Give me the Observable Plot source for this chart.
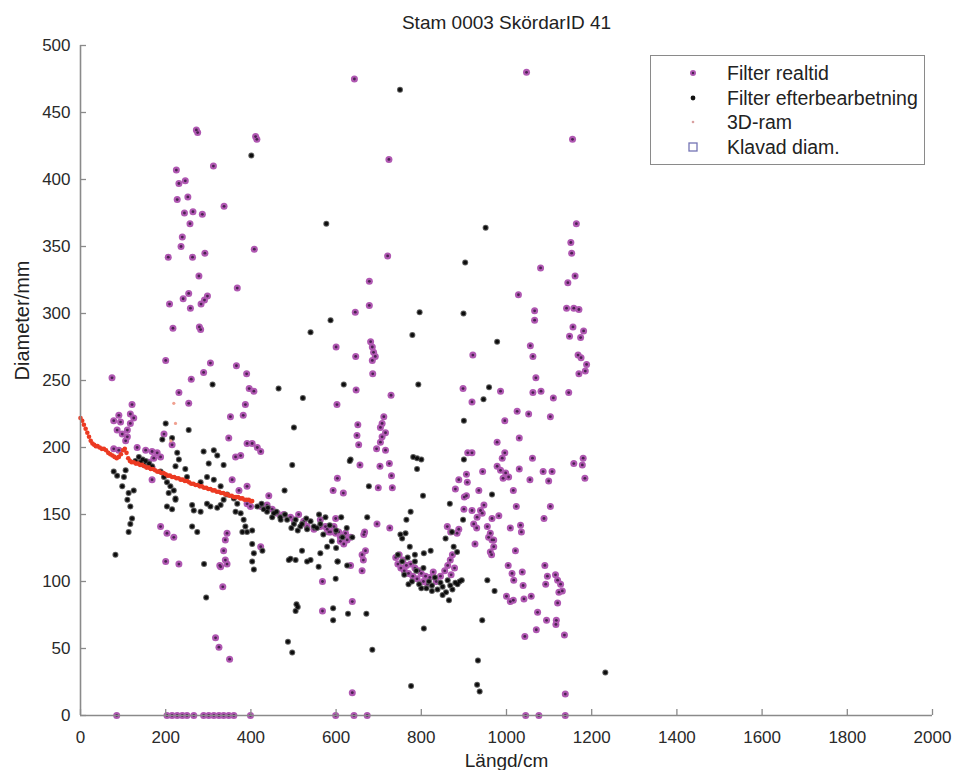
<!DOCTYPE html>
<html>
<head>
<meta charset="utf-8">
<script src="https://cdn.jsdelivr.net/npm/d3@7"></script>
<script src="https://cdn.jsdelivr.net/npm/@observablehq/plot@0.6"></script>
<style>
  html, body { margin: 0; padding: 0; background: #fff; }
  #wrap { position: relative; width: 960px; height: 770px; font-family: "Liberation Sans", Arial, sans-serif; }
  #legend { position: absolute; left: 650px; top: 55px; width: 275px; height: 110px; border: 1.5px solid #8a8a8a; background: #fff; box-sizing: border-box; }
  .row { position: absolute; left: 0; height: 24px; width: 100%; }
  .row svg { position: absolute; left: 34px; top: 4px; }
  .row span { position: absolute; left: 76px; top: 0; font-size: 19.5px; line-height: 24px; color: #222; white-space: nowrap; }
</style>
</head>
<body>
<div id="wrap"></div>
<script>
const title = "Stam 0003 SkördarID 41";
const xLabel = "Längd/cm";
const yLabel = "Diameter/mm";
const seriesNames = ["Filter realtid", "Filter efterbearbetning", "3D-ram", "Klavad diam."];
const xTicks = [0, 200, 400, 600, 800, 1000, 1200, 1400, 1600, 1800, 2000];
const yTicks = [0, 50, 100, 150, 200, 250, 300, 350, 400, 450, 500];

// Filter realtid (purple) [Längd cm, Diameter mm]
const realtid = [
[74,252],[225,407],[231,397],[246,399],[227,385],[252,387],[244,375],[264,376],[286,374],[312,410],[257,367],[337,380],[239,357],[236,350],[206,342],[263,342],[292,345],[408,348],[278,328],[368,319],[254,315],[241,311],[298,313],[291,310],[283,307],[209,307],[258,304],[217,289],[279,290],[282,288],[200,265],[305,263],[366,261],[390,255],[260,251],[289,256],[231,241],[396,244],[407,242],
[272,437],[275,435],[411,432],[414,430],
[724,415],[721,343],[678,324],[678,306],[645,301],[600,275],[646,268],[681,279],[685,275],[688,271],[692,268],[685,265],[686,255],[647,243],[729,239],
[643,475],[1047,480],[1155,430],[1164,367],[1151,353],[1153,345],[1080,334],[1161,328],[1144,323],[1028,314],[1066,302],[1066,295],[1141,304],[1158,304],[1170,303],[1156,290],[1181,287],[1148,283],[1174,282],[1168,269],[1175,267],[1188,262],[1185,257],[1170,255],[1056,276],[1062,268],[1069,252],[1062,241],[1081,242],[1110,237],[1146,241],[1025,227],[1052,225],[986,242],[898,244],[919,234],[921,269],[602,232],[712,223],[1103,223],
[996,220],[651,217],[649,209],[653,202],[708,218],[704,215],[716,211],[708,208],[704,204],[695,199],[716,198],[656,187],[703,186],[725,188],[730,179],[699,170],[732,170],[603,177],[593,168],[617,166],[978,204],[1030,207],[996,196],[990,192],[978,186],[986,183],[998,181],[1005,178],[992,177],[909,196],[919,196],[944,182],[1030,184],[1061,192],[1086,182],[1107,182],[1099,175],[1158,188],[1180,192],[1178,187],[1184,177],[1055,176],[1016,168],[888,176],[908,174],[906,180],[880,169],[901,163],[906,164],[935,168],[900,154],[919,153],[939,153],[947,157],[943,151],[931,148],[966,147],[982,149],[1023,156],[1103,156],[1088,147],[1009,140],[1033,142],[1035,137],[923,143],[930,140],[955,141],[962,136],[958,133],[970,131],[861,141],[869,137],[884,136],[888,139],[926,128],[966,131],[970,126],[962,122],[965,120],[1021,123],[1004,112],[1013,106],[1017,101],[1037,107],[1039,97],[1090,112],[1096,104],[1115,105],[1120,101],[1127,98],[1131,93],[1123,92],[1092,98],[1000,89],[1009,85],[1016,86],[1041,87],[1058,89],[1120,84],[1073,77],[1094,71],[1117,71],[1116,68],[1070,64],[1043,59],[1136,60],[1138,16],[638,17],[634,112],[638,85],[568,100],[568,78],[667,137],[665,135],[669,123],[661,120],[664,116],[661,108],[696,143],[726,140],[595,141],[618,133],[626,131],[610,130],[599,147],[606,137],[622,136],[634,133],[618,128],[563,146],[575,141],[583,137],
[85,0],[203,0],[215,0],[227,0],[239,0],[250,0],[266,0],[289,0],[301,0],[313,0],[325,0],[336,0],[348,0],[360,0],[399,0],[599,0],[642,0],[673,0],[1045,0],[1076,0],[1138,0],
[121,232],[117,225],[125,222],[117,218],[110,213],[78,220],[90,224],[94,219],[86,213],[98,210],[110,208],[106,205],[78,199],[90,198],[133,200],[153,198],[168,197],[180,196],[188,193],[172,192],[160,189],[168,185],[168,176],[196,210],[215,202],[188,141],[203,136],[219,133],[200,115],[231,113],[254,233],[352,223],[382,224],[348,207],[364,193],[376,194],[391,203],[403,203],[415,200],[423,197],[356,176],[372,168],[391,171],[391,158],[399,156],[344,136],[340,131],[336,123],[340,116],[327,112],[344,113],[387,232],[442,164],[423,126],[423,156],[438,157],[450,154],[462,151],[477,150],[493,148],[501,146],[512,150],[524,145],[532,141],[548,139],[563,141],[579,139],[587,137],[599,136],[610,133],
[329,111],[334,96],[317,58],[325,51],[350,42],
[740,118],[745,113],[748,120],[752,110],[757,116],[760,108],[765,112],[770,106],[775,113],[780,104],[785,110],[790,102],[795,108],[800,106],[805,100],[810,104],[815,98],[820,103],[828,107],[835,100],[845,104],[855,108],[862,112],[868,116],[873,120],[870,105],[878,110]
];

// Filter efterbearbetning (black)
const efter = [
[401,418],[750,467],[577,367],[951,364],[903,338],[587,295],[540,286],[779,284],[796,301],[899,300],[978,279],[310,247],[465,244],[522,237],[618,247],[793,247],[959,245],[946,236],
[900,220],[781,193],[790,192],[800,191],[790,184],[900,191],[632,190],[677,171],[804,164],[966,165],[867,158],[775,152],[765,146],[673,148],[898,146],[857,132],[872,137],[876,126],[884,122],[751,135],[763,136],[755,132],[773,126],[785,120],[806,121],[822,123],[638,133],[604,115],[599,102],[593,80],[593,71],[628,76],[671,76],[685,49],[776,22],[806,65],[943,71],[933,41],[931,23],[937,18],[955,101],[972,93],[1232,32],
[200,218],[215,207],[254,213],[192,206],[289,197],[313,198],[321,194],[301,188],[336,187],[227,196],[231,191],[223,186],[246,184],[250,178],[501,215],[497,187],[479,168],[78,182],[86,179],[102,178],[106,183],[98,171],[113,166],[110,161],[125,168],[117,156],[121,147],[117,143],[113,137],[82,120],[129,190],[137,193],[146,191],[153,190],[161,188],[168,186],[149,187],[141,189],[188,182],[196,178],[203,174],[211,171],[219,168],[207,166],[223,162],[203,156],[215,154],[223,161],[262,157],[266,153],[282,152],[262,141],[274,137],[297,158],[305,156],[321,155],[329,157],[336,161],[344,165],[360,162],[368,158],[364,152],[376,151],[383,146],[387,141],[391,137],[403,138],[380,137],[282,174],[297,178],[313,176],[329,171],[403,128],[407,121],[403,115],[427,123],[493,117],[520,123],[532,115],[559,111],[579,126],[603,115],[626,112],[563,121],[415,156],[430,154],[438,152],[454,151],[469,148],[485,146],[501,143],[516,141],[532,139],[548,141],[563,143],[634,191],
[290,113],[295,88],[407,109],[487,55],[497,47],[507,83],[510,81],[505,78],[865,86],[489,116],[505,116],[540,116],
[745,120],[755,115],[760,105],[768,118],[778,100],[788,108],[795,98],[805,110],[812,95],[818,100],[825,97],[832,103],[838,94],[845,99],[850,96],[858,92],[862,101],[868,97],[873,94],[880,99],[885,98],[890,100],[895,101],[850,90],[825,93],[800,95],[785,115],[770,98],
[540,145],[555,140],[570,135],[585,142],[600,138],[615,133],[625,140],[505,146],[520,143],[480,150],[460,152],[440,155],[425,158],[450,148],[470,146],[495,140],[510,138],[530,147],[560,150],[575,148],[590,130],[600,125],[612,148]
];

// 3D-ram (red)
const ram3d = [
[0,222],[4,220],[8,217],[12,214],[16,211],[20,208],[24,205],[28,203],[32,202],[36,201],[40,201],[45,200],[50,199],[55,199],[60,198],[65,196],[70,195],[75,194],[80,193],[85,192],[90,193],[95,195],[100,198],[104,199],[108,196],[112,192],[116,190],[120,189],[125,189],[130,188],[135,188],[140,187],[145,187],[150,186],[155,185],[160,185],[165,184],[170,184],[175,183],[180,182],[185,182],[190,181],[195,181],[200,180],[205,179],[210,179],[215,178],[220,178],[225,177],[230,177],[235,176],[240,176],[245,175],[250,175],[255,174],[260,173],[265,173],[270,172],[275,172],[280,171],[285,171],[290,170],[295,170],[300,169],[305,169],[310,168],[315,168],[320,167],[325,167],[330,166],[335,166],[340,165],[345,165],[350,164],[355,164],[360,163],[365,163],[370,163],[375,162],[380,162],[385,161],[390,161],[395,161],[400,160],[403,160]
];
// faint stray 3D-ram points
const ram3dStray = [[219,233],[223,218],[212,205]];

// Klavad diam. : no values in this stem
const klavad = [];

const X = d => d[0], Y = d => d[1];
const W = 960, H = 770, mL = 80, mR = 28, mT = 45, mB = 55;
const tickLen = 6;

const chart = Plot.plot({
  width: W,
  height: H,
  marginLeft: mL,
  marginRight: mR,
  marginTop: mT,
  marginBottom: mB,
  x: {domain: [0, 2000]},
  y: {domain: [0, 500]},
  style: {fontFamily: "'Liberation Sans', Arial, sans-serif", fontSize: "17px", color: "#2a2a2a", background: "#fff"},
  marks: [
    Plot.dot(realtid, {x: X, y: Y, r: 3.5, fill: "#b058b2"}),
    Plot.dot(realtid, {x: X, y: Y, r: 1.4, fill: "#4a2250"}),
    Plot.dot(efter, {x: X, y: Y, r: 3.0, fill: "#5a5a5a"}),
    Plot.dot(efter, {x: X, y: Y, r: 2.0, fill: "#0d0d0d"}),
    Plot.dot(ram3dStray, {x: X, y: Y, r: 1.6, fill: "#f0a090"}),
    Plot.dot(ram3d, {x: X, y: Y, r: 2.3, fill: "#ec3a22"}),
    Plot.dot(klavad, {x: X, y: Y, r: 4, symbol: "square", stroke: "#7474b4"}),
    Plot.ruleX([0], {stroke: "#8a8a8a", strokeWidth: 1.6}),
    Plot.ruleY([0], {stroke: "#8a8a8a", strokeWidth: 1.6}),
    // inward tick marks
    Plot.ruleX(xTicks, {x: d => d, insetTop: H - mT - mB - tickLen, stroke: "#8a8a8a", strokeWidth: 1.3}),
    Plot.ruleY(yTicks, {y: d => d, insetRight: W - mL - mR - tickLen, stroke: "#8a8a8a", strokeWidth: 1.3}),
    Plot.axisX(xTicks, {tickSize: 0, tickPadding: 15, tickFormat: d => String(d), label: null, fontSize: 17}),
    Plot.axisY(yTicks, {tickSize: 0, tickPadding: 10, tickFormat: d => String(d), label: null, fontSize: 17}),
    Plot.text([title], {frameAnchor: "top", lineAnchor: "middle", dy: -23, fontSize: 19, fill: "#222"}),
    Plot.text([xLabel], {frameAnchor: "bottom", lineAnchor: "middle", dy: 45, fontSize: 19, fill: "#222"}),
    Plot.text([yLabel], {frameAnchor: "left", lineAnchor: "middle", dx: -58, rotate: -90, fontSize: 20, fill: "#222"})
  ]
});

const wrap = document.getElementById("wrap");
wrap.appendChild(chart);

// legend
const legend = document.createElement("div");
legend.id = "legend";
const markers = [
  '<svg width="16" height="16"><circle cx="8" cy="8" r="3" fill="#b058b2"/><circle cx="8" cy="8" r="1.2" fill="#4a2250"/></svg>',
  '<svg width="16" height="16"><circle cx="8" cy="8" r="2.4" fill="#111"/></svg>',
  '<svg width="16" height="16"><circle cx="8" cy="8" r="1.3" fill="#d9a0a0"/></svg>',
  '<svg width="16" height="16"><rect x="4" y="4" width="8" height="8" fill="none" stroke="#7474b4" stroke-width="1.3"/></svg>'
];
seriesNames.forEach((name, i) => {
  const row = document.createElement("div");
  row.className = "row";
  row.style.top = (5 + i * 24.5) + "px";
  row.innerHTML = markers[i] + "<span>" + name + "</span>";
  legend.appendChild(row);
});
wrap.appendChild(legend);
</script>
</body>
</html>
